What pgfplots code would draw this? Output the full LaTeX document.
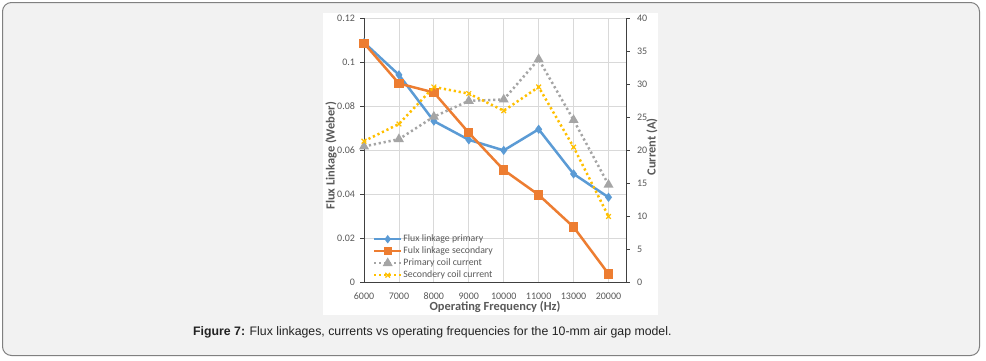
\documentclass[border=0pt]{standalone}
\usepackage{fontspec}
\setmainfont{Carlito}
\newfontfamily\arialfont{Liberation Sans}
\usepackage{pgfplots}
\usepackage{pgfplotstable}
\pgfplotsset{compat=1.18}
\definecolor{cblue}{HTML}{5B9BD5}
\definecolor{corange}{HTML}{ED7D31}
\definecolor{cgray}{HTML}{A5A5A5}
\definecolor{cyellow}{HTML}{FFC000}
\definecolor{ctext}{HTML}{595959}
\definecolor{cgrid}{HTML}{D9D9D9}
\definecolor{caxis}{HTML}{404040}
\definecolor{cbg}{HTML}{F2F2F2}
\definecolor{cborder}{HTML}{808080}
\definecolor{ccap}{HTML}{222222}

\pgfplotstableread{
idx flux1 flux2 cur1 cur2
0 0.1090 0.1087 20.6 21.4
1 0.0943 0.0904 21.7 24.0
2 0.0733 0.0863 25.1 29.6
3 0.0648 0.0680 27.5 28.6
4 0.0600 0.0511 27.7 26.0
5 0.0696 0.0398 33.8 29.6
6 0.0493 0.0252 24.6 20.5
7 0.0387 0.0039 14.8 10.0
}\datatable

\pgfplotsset{
  myaxis/.style={
    at={(364pt,77.5pt)}, anchor=south west, scale only axis,
    width=262pt, height=264.2pt,
    xmin=0, xmax=7.5, xtick={0,...,7},
    tick label style={font=\fontsize{10}{11}\selectfont, text=ctext},
    xticklabel style={yshift=-2.5pt},
    /pgf/number format/assume math mode=true,
    label style={font=\bfseries\fontsize{12.4}{14}\selectfont, text=ctext},
    axis line style={caxis, line width=0.8pt, -},
    major tick length=4pt,
    tick align=outside,
    xtick style={draw=none},
    ytick style={caxis, line width=0.8pt},
  }
}

\begin{document}
\begin{tikzpicture}[x=1pt,y=1pt]
\path[use as bounding box] (0,0) rectangle (986,360);
\filldraw[fill=cbg, draw=cborder, line width=1pt, rounded corners=9pt] (2.5,4.5) rectangle (979.5,357.5);
\fill[white] (323,45) rectangle (658,347);

\begin{axis}[myaxis,
  ymin=0, ymax=0.12,
  ytick={0,0.02,0.04,0.06,0.08,0.1,0.12},
  yticklabels={0,0.02,0.04,0.06,0.08,0.1,0.12},
  yticklabel style={xshift=-1.5pt},
  xticklabels={6000,7000,8000,9000,10000,11000,13000,20000},
  axis x line*=bottom, axis y line*=left,
  ymajorgrids, xmajorgrids, grid style={cgrid, line width=0.8pt},
  xlabel={Operating Frequency (Hz)},
  ylabel={Flux Linkage (Weber)},
  xlabel style={at={(axis description cs:0.5,-0.0916)}, anchor=center},
  ylabel style={at={(axis description cs:-0.126,0.48)}, anchor=center},
]
\addplot[cblue, line width=2.5pt, mark=diamond*, mark size=2.6pt] table[x=idx,y=flux1]{\datatable};
\addplot[corange, line width=2.5pt, mark=square*, mark size=3.4pt] table[x=idx,y=flux2]{\datatable};
\end{axis}

\begin{axis}[myaxis,
  ymin=0, ymax=40, ytick={0,5,...,40},
  yticklabel style={xshift=3.5pt},
  axis y line*=right, axis x line=none,
  ylabel={Current (A)},
  ylabel style={at={(axis description cs:1.099,0.513)}, anchor=center},
  legend style={at={(axis description cs:0.022,0.195)}, anchor=north west,
    draw=none, fill=none, font=\fontsize{9.8}{10}\selectfont, text=ctext,
    nodes={inner sep=1pt, text height=7.5pt, text depth=2.5pt}, row sep=0pt},
  legend cell align=left,
  legend image code/.code={\draw[mark repeat=2, mark phase=2, #1] plot coordinates {(0pt,0pt) (13.5pt,0pt) (27pt,0pt)};},
]
\addlegendimage{cblue, line width=2.5pt, mark=diamond*, mark size=2.2pt}
\addlegendentry{Flux linkage primary}
\addlegendimage{corange, line width=2.5pt, mark=square*, mark size=2.8pt}
\addlegendentry{Fulx linkage secondary}
\addplot[cgray, line width=2.5pt, dash pattern=on 2.2pt off 2.8pt, mark=triangle*, mark size=3.3pt, mark options={solid}] table[x=idx,y=cur1]{\datatable};
\addlegendentry{Primary coil current}
\addplot[cyellow, line width=2.5pt, dash pattern=on 2.2pt off 2.8pt, mark=x, mark size=3.3pt, mark options={solid, line width=1.2pt}] table[x=idx,y=cur2]{\datatable};
\addlegendentry{Secondery coil current}
\end{axis}

\node[anchor=base west, inner sep=0, text=ccap, font=\arialfont\fontsize{12.3}{14}\selectfont] at (193,24.3) {\textbf{Figure 7:} Flux linkages, currents vs operating frequencies for the 10-mm air gap model.};
\end{tikzpicture}
\end{document}
